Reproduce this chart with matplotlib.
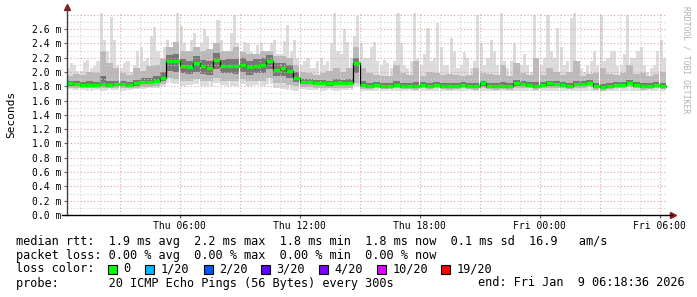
import numpy as np
import pandas as pd
import matplotlib
matplotlib.use('Agg')
import matplotlib.pyplot as plt
import matplotlib.dates as mdates

# 20 minute bins, values in ms
t = pd.date_range('2026-01-08 00:20', periods=90, freq='20min')
# the max of the pings is read at 10 minute resolution
t10 = pd.date_range('2026-01-08 00:20', periods=180, freq='10min')

med = [1.84, 1.83, 1.82, 1.82, 1.82, 1.83, 1.82, 1.83, 1.83, 1.82, 1.84, 1.86, 1.86, 1.88, 1.92,
       2.16, 2.15, 2.08, 2.07, 2.12, 2.08, 2.06, 2.17, 2.08, 2.09, 2.08, 2.10, 2.07, 2.09, 2.10,
       2.15, 2.03, 2.05, 2.01, 1.92, 1.86, 1.86, 1.85, 1.85, 1.84, 1.85, 1.85, 1.85, 2.12, 1.82,
       1.81, 1.82, 1.81, 1.81, 1.82, 1.81, 1.81, 1.80, 1.82, 1.81, 1.82, 1.81, 1.80, 1.81, 1.82,
       1.81, 1.80, 1.84, 1.81, 1.80, 1.81, 1.80, 1.84, 1.83, 1.82, 1.80, 1.82, 1.84, 1.83, 1.82,
       1.81, 1.83, 1.83, 1.85, 1.80, 1.79, 1.81, 1.82, 1.82, 1.85, 1.82, 1.80, 1.81, 1.82, 1.81]

ping_max = [2.05, 2.12, 2.10, 2.02, 2.02, 2.14, 2.17, 2.05, 2.08, 2.15,
            2.82, 2.45, 2.30, 2.77, 2.45, 2.10, 2.05, 2.12, 2.15, 2.00,
            2.10, 2.30, 2.35, 2.15, 2.20, 2.50, 2.63, 2.30, 2.20, 2.35,
            2.45, 2.30, 2.35, 2.82, 2.65, 2.40, 2.30, 2.45, 2.55, 2.35,
            2.40, 2.60, 2.50, 2.30, 2.35, 2.73, 2.45, 2.30, 2.30, 2.55,
            2.80, 2.40, 2.30, 2.42, 2.40, 2.28, 2.25, 2.38, 2.40, 2.30,
            2.30, 2.40, 2.45, 2.25, 2.25, 2.43, 2.66, 2.30, 2.45, 2.20,
            2.10, 2.15, 2.20, 2.05, 2.05, 2.15, 2.20, 2.10, 2.15, 2.40,
            2.82, 2.30, 2.25, 2.60, 2.42, 2.20, 2.50, 2.78, 2.40, 2.20,
            2.20, 2.35, 2.42, 2.15, 2.10, 2.17, 2.12, 2.05, 2.15, 2.82,
            2.40, 2.10, 2.05, 2.15, 2.82, 2.20, 2.10, 2.25, 2.62, 2.15,
            2.20, 2.68, 2.35, 2.10, 2.10, 2.48, 2.30, 2.05, 2.10, 2.28,
            2.20, 2.05, 2.15, 2.80, 2.40, 2.10, 2.20, 2.45, 2.30, 2.10,
            2.82, 2.15, 2.05, 2.15, 2.40, 2.10, 2.10, 2.25, 2.10, 2.00,
            2.80, 2.20, 2.10, 2.20, 2.80, 2.30, 2.20, 2.62, 2.35, 2.10,
            2.15, 2.75, 2.82, 2.15, 2.05, 2.00, 2.10, 2.15, 2.30, 2.10,
            2.80, 2.15, 2.20, 2.30, 2.30, 2.10, 2.10, 2.25, 2.80, 2.20,
            2.20, 2.30, 2.35, 2.10, 2.00, 2.05, 2.10, 2.30, 2.45, 2.20]

ping_min = [1.76, 1.75, 1.75, 1.74, 1.75, 1.74, 1.75, 1.75, 1.74, 1.75, 1.76, 1.76, 1.77, 1.78, 1.80,
            1.84, 1.83, 1.80, 1.82, 1.83, 1.80, 1.81, 1.84, 1.82, 1.80, 1.81, 1.83, 1.80, 1.82, 1.81,
            1.83, 1.78, 1.76, 1.75, 1.74, 1.76, 1.75, 1.75, 1.74, 1.75, 1.74, 1.75, 1.75, 1.80, 1.73,
            1.74, 1.73, 1.74, 1.74, 1.73, 1.74, 1.73, 1.74, 1.74, 1.73, 1.74, 1.74, 1.73, 1.74, 1.74,
            1.73, 1.74, 1.74, 1.73, 1.74, 1.73, 1.74, 1.74, 1.73, 1.74, 1.73, 1.74, 1.74, 1.73, 1.74,
            1.74, 1.74, 1.73, 1.74, 1.73, 1.74, 1.73, 1.74, 1.74, 1.73, 1.74, 1.73, 1.74, 1.74, 1.74]

p90 = [1.95, 1.97, 1.96, 2.00, 1.98, 2.30, 2.12, 2.05, 1.98, 1.96, 2.05, 2.02, 2.08, 2.10, 2.18,
       2.35, 2.42, 2.30, 2.30, 2.35, 2.30, 2.32, 2.40, 2.30, 2.30, 2.35, 2.28, 2.25, 2.25, 2.30,
       2.30, 2.22, 2.22, 2.20, 2.10, 2.00, 1.98, 1.96, 1.98, 2.02, 2.05, 2.00, 2.05, 2.35, 2.05,
       1.98, 1.96, 1.95, 1.94, 2.10, 1.98, 1.96, 2.15, 1.95, 2.00, 1.98, 1.96, 1.97, 1.96, 1.95,
       1.96, 2.05, 1.98, 1.97, 1.96, 2.10, 1.95, 2.12, 1.98, 1.96, 2.20, 1.96, 2.05, 2.00, 1.96,
       2.00, 2.15, 1.95, 1.97, 1.98, 2.05, 1.97, 1.96, 1.98, 2.10, 1.97, 1.98, 1.95, 1.97, 2.00]

p10 = [1.78, 1.77, 1.77, 1.77, 1.77, 1.77, 1.77, 1.77, 1.77, 1.77, 1.78, 1.79, 1.79, 1.80, 1.83,
       1.92, 1.90, 1.88, 1.88, 1.90, 1.88, 1.87, 1.92, 1.88, 1.88, 1.88, 1.90, 1.87, 1.88, 1.88,
       1.92, 1.85, 1.85, 1.82, 1.80, 1.79, 1.79, 1.78, 1.78, 1.77, 1.78, 1.78, 1.78, 1.85, 1.76,
       1.76, 1.77, 1.76, 1.76, 1.77, 1.76, 1.76, 1.75, 1.77, 1.76, 1.77, 1.76, 1.75, 1.76, 1.77,
       1.76, 1.75, 1.78, 1.76, 1.75, 1.76, 1.75, 1.78, 1.77, 1.77, 1.75, 1.77, 1.78, 1.77, 1.77,
       1.76, 1.77, 1.77, 1.79, 1.75, 1.74, 1.76, 1.77, 1.77, 1.79, 1.77, 1.75, 1.76, 1.77, 1.76]

p75 = [1.88, 1.87, 1.86, 1.87, 1.86, 1.95, 1.88, 1.87, 1.87, 1.86, 1.89, 1.91, 1.92, 1.94, 2.00,
       2.24, 2.25, 2.18, 2.16, 2.22, 2.17, 2.15, 2.27, 2.17, 2.18, 2.18, 2.20, 2.15, 2.18, 2.20,
       2.24, 2.12, 2.12, 2.10, 2.00, 1.90, 1.90, 1.89, 1.89, 1.88, 1.90, 1.89, 1.90, 2.20, 1.87,
       1.85, 1.86, 1.85, 1.85, 1.88, 1.85, 1.85, 1.86, 1.86, 1.85, 1.86, 1.85, 1.84, 1.85, 1.86,
       1.85, 1.85, 1.88, 1.85, 1.84, 1.86, 1.84, 1.89, 1.87, 1.86, 1.86, 1.86, 1.88, 1.87, 1.86,
       1.85, 1.88, 1.87, 1.89, 1.84, 1.83, 1.85, 1.86, 1.86, 1.89, 1.86, 1.84, 1.85, 1.86, 1.85]

p25 = [1.81, 1.80, 1.79, 1.79, 1.79, 1.80, 1.79, 1.80, 1.80, 1.79, 1.81, 1.83, 1.83, 1.85, 1.88,
       2.02, 2.00, 1.98, 1.97, 2.00, 1.97, 1.96, 2.04, 1.98, 1.98, 1.97, 2.00, 1.96, 1.98, 1.99,
       2.04, 1.94, 1.95, 1.92, 1.86, 1.83, 1.83, 1.82, 1.82, 1.81, 1.82, 1.82, 1.82, 1.98, 1.79,
       1.78, 1.79, 1.78, 1.78, 1.79, 1.78, 1.78, 1.77, 1.79, 1.78, 1.79, 1.78, 1.77, 1.78, 1.79,
       1.78, 1.77, 1.81, 1.78, 1.77, 1.78, 1.77, 1.81, 1.80, 1.79, 1.77, 1.79, 1.81, 1.80, 1.79,
       1.78, 1.80, 1.80, 1.82, 1.77, 1.76, 1.78, 1.79, 1.79, 1.82, 1.79, 1.77, 1.78, 1.79, 1.78]

loss_labels = ['0', '1/20', '2/20', '3/20', '4/20', '10/20', '19/20']
loss_colors = ['#00ff00', '#00b8ff', '#0059ff', '#5e00ff', '#7e00ff', '#dd00ff', '#ff0000']

mono = 'DejaVu Sans Mono'
W, H = 697, 297
fig = plt.figure(figsize=(W / 100, H / 100), dpi=100)
fig.patch.set_facecolor('white')
ax = fig.add_axes([67 / W, (H - 215) / H, 600 / W, 202 / H])
ax.set_facecolor('white')

x0 = pd.Timestamp('2026-01-08 00:22:30')
x1 = pd.Timestamp('2026-01-09 06:22:30')
ax.set_xlim(x0, x1)
ax.set_ylim(0, 2.825)

# grid, drawn over the smoke like rrdtool does
for h in pd.date_range('2026-01-08 01:00', '2026-01-09 06:00', freq='1h'):
    c = '#e6a0a0' if h.hour % 3 == 0 else '#cfcfcf'
    ax.axvline(h, color=c, lw=0.8, ls=(0, (1, 2)), zorder=3.5)
for k in range(1, 29):
    c = '#e6a0a0' if k % 2 == 0 else '#cfcfcf'
    ax.axhline(k * 0.1, color=c, lw=0.8, ls=(0, (1, 2)), zorder=3.5)

# smoke
tn = mdates.date2num(t)
wd = 20 / 1440
lo_full = np.repeat(ping_min, 2)
ax.bar(mdates.date2num(t10), np.array(ping_max) - lo_full, bottom=lo_full, width=wd / 2,
       align='edge', color='#dcdcdc', lw=0, zorder=1)
ax.bar(tn, np.array(p90) - np.array(p10), bottom=p10, width=wd, align='edge',
       color='#bababa', lw=0, zorder=2)
ax.bar(tn, np.array(p75) - np.array(p25), bottom=p25, width=wd, align='edge',
       color='#767676', lw=0, zorder=3)

# median
edges = np.append(tn, tn[-1] + wd)
ax.step(edges, np.append(med, med[-1]), where='post', color='black', lw=0.9, zorder=4)
ax.hlines(med, tn, tn + wd, color='#00ff00', lw=2.4, zorder=5)

# axes
for s in ax.spines.values():
    s.set_visible(False)
ax.plot([0, 0], [0, 1.025], transform=ax.transAxes, color='#404040', lw=1, clip_on=False, zorder=6)
ax.plot([-0.008, 1.008], [0, 0], transform=ax.transAxes, color='black', lw=1, clip_on=False, zorder=6)
ax.plot([0], [1.03], marker='^', ms=4, color='#8b1a1a', transform=ax.transAxes, clip_on=False)
ax.plot([1.01], [0], marker='>', ms=4, color='#8b1a1a', transform=ax.transAxes, clip_on=False)

ax.set_yticks(np.arange(0, 2.7, 0.2))
ax.set_yticklabels(['%.1f m' % v for v in np.arange(0, 2.7, 0.2)], family=mono, fontsize=7)
ax.xaxis.set_major_locator(mdates.HourLocator(byhour=[0, 6, 12, 18]))
ax.xaxis.set_major_formatter(mdates.DateFormatter('%a %H:%M'))
for lab in ax.get_xticklabels():
    lab.set_family(mono)
    lab.set_fontsize(7)
ax.tick_params(axis='both', length=2, width=0.8, color='#606060', pad=2)

fig.text(11 / W, 1 - 114 / H, 'Seconds', rotation=90, family=mono, fontsize=8,
         ha='center', va='center')
fig.text(686 / W, 1 - 60 / H, 'RRDTOOL / TOBI OETIKER', rotation=270, family=mono,
         fontsize=5.8, color='#b0b0b0', ha='center', va='center')

fs = 8.55
fig.text(16 / W, 1 - 241 / H,
         'median rtt:  1.9 ms avg  2.2 ms max  1.8 ms min  1.8 ms now  0.1 ms sd  16.9   am/s',
         family=mono, fontsize=fs, va='center')
fig.text(16 / W, 1 - 255 / H,
         'packet loss: 0.00 % avg  0.00 % max  0.00 % min  0.00 % now',
         family=mono, fontsize=fs, va='center')
fig.text(16 / W, 1 - 269 / H, 'loss color:', family=mono, fontsize=fs, va='center')
sq_x = [108, 145, 204, 261, 319, 377, 441]
for xs, lab, col in zip(sq_x, loss_labels, loss_colors):
    fig.patches.append(plt.Rectangle((xs / W, 1 - 273.5 / H), 8.5 / W, 9 / H, transform=fig.transFigure,
                                     facecolor=col, edgecolor='black', lw=0.8))
    fig.text((xs + 15.5) / W, 1 - 269 / H, lab, family=mono, fontsize=fs, va='center')
fig.text(16 / W, 1 - 283 / H, 'probe:       20 ICMP Echo Pings (56 Bytes) every 300s',
         family=mono, fontsize=fs, va='center')
fig.text(478 / W, 1 - 283 / H, 'end: Fri Jan  9 06:18:36 2026', family=mono, fontsize=fs, va='center')

fig.savefig('out.png', dpi=100, facecolor='white')
